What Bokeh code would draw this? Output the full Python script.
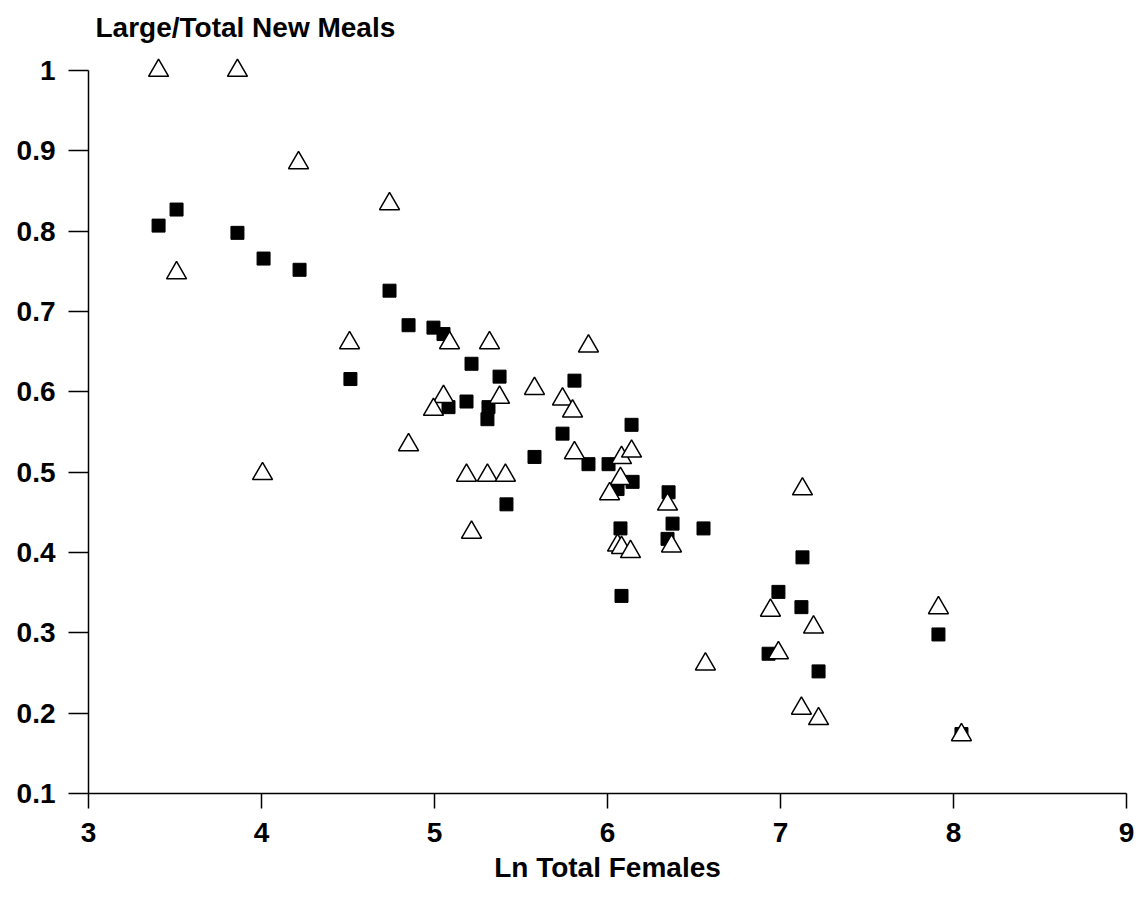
from bokeh.plotting import figure
from bokeh.models import Range1d, FixedTicker, Title
from bokeh.embed import file_html
from bokeh.resources import INLINE

# Filled squares series
sq_x = [3.405, 3.509, 3.861, 4.012, 4.220, 4.740, 4.850, 4.514, 4.994, 5.052,
        5.214, 5.376, 5.809, 5.185, 5.081, 5.312, 5.306, 5.740, 5.578, 5.890,
        6.006, 6.139, 6.145, 6.058, 6.353, 6.376, 6.075, 6.555, 6.347, 5.416,
        6.081, 7.127, 6.988, 7.121, 6.931, 7.913, 7.220, 8.046]
sq_y = [0.807, 0.827, 0.798, 0.766, 0.752, 0.726, 0.683, 0.616, 0.680, 0.672,
        0.635, 0.619, 0.614, 0.588, 0.581, 0.581, 0.566, 0.548, 0.519, 0.510,
        0.510, 0.559, 0.488, 0.479, 0.475, 0.436, 0.430, 0.430, 0.417, 0.460,
        0.346, 0.394, 0.351, 0.332, 0.274, 0.298, 0.252, 0.174]

# Open triangles series
tri_x = [3.405, 3.861, 4.214, 4.740, 3.509, 4.509, 4.006, 4.850, 5.087, 5.318,
         5.890, 5.052, 4.994, 5.376, 5.578, 5.740, 5.798, 5.809, 6.081, 6.139,
         6.075, 6.012, 5.185, 5.306, 5.410, 5.214, 6.347, 6.058, 6.081, 6.133,
         6.370, 7.127, 7.913, 6.942, 7.191, 6.988, 6.566, 7.121, 7.220, 8.046]
tri_y = [1.000, 1.000, 0.885, 0.834, 0.748, 0.661, 0.498, 0.534, 0.661, 0.661,
         0.657, 0.594, 0.578, 0.593, 0.604, 0.591, 0.576, 0.524, 0.518, 0.526,
         0.492, 0.473, 0.496, 0.496, 0.496, 0.425, 0.460, 0.409, 0.406, 0.401,
         0.408, 0.479, 0.331, 0.328, 0.307, 0.275, 0.261, 0.206, 0.193, 0.173]

x_ticks = [3, 4, 5, 6, 7, 8, 9]
y_ticks = [0.1, 0.2, 0.3, 0.4, 0.5, 0.6, 0.7, 0.8, 0.9, 1.0]
y_tick_labels = ["0.1", "0.2", "0.3", "0.4", "0.5", "0.6", "0.7", "0.8", "0.9", "1"]

y_title = "Large/Total New Meals"
x_title = "Ln Total Females"

FONT = "Liberation Sans"

p = figure(width=1140, height=912,
           x_range=Range1d(3, 9), y_range=Range1d(0.1, 1.03),
           output_backend="svg", toolbar_location=None,
           min_border_left=88, min_border_right=14,
           min_border_top=46, min_border_bottom=119,
           background_fill_color="white", border_fill_color="white")
p.outline_line_color = None
p.grid.visible = False

# axes
for ax in (p.xaxis[0], p.yaxis[0]):
    ax.axis_line_color = "black"
    ax.axis_line_width = 1.5
    ax.major_tick_line_color = "black"
    ax.major_tick_line_width = 1.5
    ax.minor_tick_line_color = None
    ax.major_tick_in = 0
    ax.major_label_text_font = FONT
    ax.major_label_text_font_style = "bold"
    ax.major_label_text_color = "black"

p.xaxis.ticker = FixedTicker(ticks=x_ticks)
p.xaxis.major_tick_out = 15
p.xaxis.major_label_standoff = 14
p.xaxis.major_label_text_font_size = "28px"
p.xaxis.bounds = (3, 9)
p.xaxis.axis_label = x_title
p.xaxis.axis_label_text_font = FONT
p.xaxis.axis_label_text_font_style = "bold"
p.xaxis.axis_label_text_font_size = "28px"
p.xaxis.axis_label_text_color = "black"
p.xaxis.axis_label_standoff = 7

p.yaxis.ticker = FixedTicker(ticks=y_ticks)
p.yaxis.major_label_overrides = {t: lab for t, lab in zip(y_ticks, y_tick_labels)}
p.yaxis.major_tick_out = 20
p.yaxis.major_label_standoff = 13
p.yaxis.major_label_text_font_size = "28px"
p.yaxis.bounds = (0.1, 1.0)

# data
p.scatter(sq_x, sq_y, marker="square", size=13,
          fill_color="black", line_color="black", line_width=1)
p.scatter(tri_x, tri_y, marker="triangle", size=20,
          fill_color="white", line_color="black", line_width=1.5)

# y-axis title at the top-left
p.add_layout(Title(text=y_title, align="left", offset=7, standoff=8,
                   text_font=FONT, text_font_style="bold",
                   text_font_size="28px", text_color="black"), "above")

open("out.html", "w").write(file_html(p, INLINE))
